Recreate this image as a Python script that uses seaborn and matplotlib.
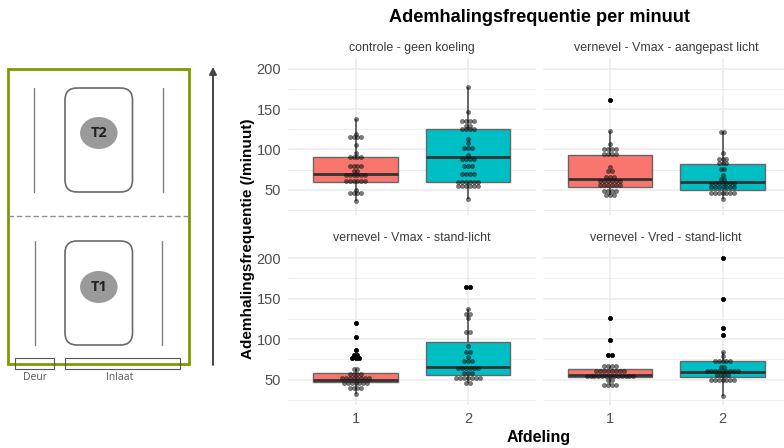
import numpy as np
import pandas as pd
import matplotlib
matplotlib.use("Agg")
import matplotlib.pyplot as plt
from matplotlib.patches import Rectangle, FancyBboxPatch, Ellipse
import seaborn as sns

W, H = 784, 448

panels = ["controle - geen koeling", "vernevel - Vmax - aangepast licht",
          "vernevel - Vmax - stand-licht", "vernevel - Vred - stand-licht"]
afdeling = [1, 2]

# dots per afdeling
a1 = [35.5] + [46]*4 + [50] + [61]*6 + [68]*6 + [73]*2 + [79]*4 + [90]*4 + [95, 105] + [115]*4 + [119, 138]
a2 = [38] + [55]*6 + [60]*6 + [70]*4 + [79]*3 + [88.5]*4 + [93] + [102]*3 + [108, 113] + [125]*4 + [129]*2 + [135]*4 + [147, 177]
b1 = [43]*3 + [48]*4 + [56]*6 + [61]*6 + [66]*3 + [73]*2 + [78] + [94]*4 + [100]*4 + [107, 122.5, 161.5]
b2 = [38.5] + [46]*7 + [53]*7 + [58]*7 + [63.5]*2 + [68] + [76]*2 + [83]*3 + [88]*3 + [95] + [122]*2
c1 = [32] + [40]*4 + [46]*7 + [52]*8 + [56.5]*4 + [63.5]*2 + [76]*3 + [80]*2 + [87, 102, 120]
c2 = [46]*2 + [52]*7 + [58]*3 + [64]*6 + [72.5]*3 + [77.6] + [84]*2 + [92] + [109]*2 + [126] + [131.5]*2 + [137] + [164.5]*2
d1 = [43]*4 + [49]*2 + [54.5]*13 + [60.6]*8 + [67]*4 + [80]*2 + [99, 126]
d2 = [29.5] + [49]*7 + [55]*4 + [60.6]*9 + [65.6]*2 + [73]*5 + [78.7, 83.6, 104.5, 114, 149, 200]
dots = [[a1, a2], [b1, b2], [c1, c2], [d1, d2]]

# box outlines, one pair per panel
whisker_low = [[35.5, 38], [43, 38.5], [32, 46], [43, 29.5]]
box_q1 = [[60, 60], [53.7, 50], [47.5, 56], [52.5, 52.5]]
box_median = [[70, 90], [63, 60], [50, 65], [55, 59.5]]
box_q3 = [[91, 125], [93.5, 81.5], [57.5, 96], [63, 72.5]]
whisker_high = [[138, 177], [122.5, 122], [63.5, 137], [67, 83.6]]

colors = ["#F8766D", "#00BFC4"]
axis_boxes = [(288, 58, 215), (542.5, 58, 215), (288, 248, 405), (542.5, 248, 405)]
ylims = [(18.5, 213.5), (18.5, 213.5), (18.5, 212.5), (18.5, 212.5)]
dot_step = 0.0345  # sideways spacing of stacked dots


def stack_dots(values, center, high):
    # centred rows like a dotplot
    rows = []
    vals, counts = np.unique(values, return_counts=True)
    for v, n in zip(vals, counts):
        for k in range(n):
            rows.append((center + (k - (n - 1) / 2) * dot_step, v, v > high))
    return rows


sns.set_theme(style="whitegrid")
plt.rcParams["font.family"] = ["Liberation Sans", "DejaVu Sans"]

fig = plt.figure(figsize=(W / 100, H / 100), dpi=100)

for i, name in enumerate(panels):
    left, top, bottom = axis_boxes[i]
    ax = fig.add_axes([left / W, 1 - bottom / H, 247.5 / W, (bottom - top) / H])

    box_rows = []
    dot_rows = []
    for j, afd in enumerate(afdeling):
        five = [whisker_low[i][j], box_q1[i][j], box_median[i][j], box_q3[i][j], whisker_high[i][j]]
        box_rows += [(afd, v) for v in five]
        dot_rows += stack_dots(dots[i][j], j, whisker_high[i][j])
    df_box = pd.DataFrame(box_rows, columns=["afdeling", "rate"])
    df_dots = pd.DataFrame(dot_rows, columns=["x", "rate", "outlier"])

    sns.boxplot(data=df_box, x="afdeling", y="rate", hue="afdeling", order=afdeling,
                palette=colors, dodge=False, legend=False, saturation=1, width=0.75,
                whis=(0, 100), showcaps=False, fliersize=0, ax=ax,
                boxprops=dict(edgecolor="#666666", linewidth=1.0),
                whiskerprops=dict(color="#444444", linewidth=1.1),
                medianprops=dict(color="#333333", linewidth=2.0))
    sns.scatterplot(data=df_dots, x="x", y="rate", color="#111111", s=9, alpha=0.55,
                    linewidth=0.4, edgecolor="#111111", legend=False, ax=ax, zorder=4)
    sns.scatterplot(data=df_dots[df_dots["outlier"]], x="x", y="rate", color="black", s=9,
                    linewidth=0.4, edgecolor="black", legend=False, ax=ax, zorder=5)

    ax.set_xlim(-0.6, 1.6)
    ax.set_ylim(*ylims[i])
    ax.set_xticks([0, 1], labels=afdeling)
    ax.set_yticks([50, 100, 150, 200])
    ax.set_yticks([25, 75, 125, 175], minor=True)
    ax.grid(True, which="major", color="#EBEBEB", linewidth=1.1)
    ax.grid(True, which="minor", axis="y", color="#EBEBEB", linewidth=0.6)
    ax.set_axisbelow(True)
    for s in ax.spines.values():
        s.set_visible(False)
    ax.tick_params(which="both", length=0, labelsize=10.5, labelcolor="#4D4D4D", pad=5)
    ax.set_xlabel("")
    ax.set_ylabel("")
    if i % 2 == 1:
        ax.tick_params(labelleft=False)
    if i < 2:
        ax.tick_params(labelbottom=False)
    fig.text((left + 123.5) / W, 1 - (top - 10) / H, name, ha="center", va="center",
             fontsize=8.9, color="#3a3a3a")

fig.text(539.5 / W, 1 - 17 / H, "Ademhalingsfrequentie per minuut", ha="center", va="center",
         fontsize=13.1, fontweight="bold", color="black")
fig.text(538.5 / W, 1 - 437.5 / H, "Afdeling", ha="center", va="center",
         fontsize=11.5, fontweight="bold", color="black")
fig.text(248 / W, 1 - 239 / H, "Ademhalingsfrequentie (/minuut)", ha="center", va="center",
         rotation=90, fontsize=11, fontweight="bold", color="black")

# stable layout sketch on the left, drawn in pixel coordinates
sk = fig.add_axes([0, 0, 1, 1], zorder=-1)
sk.set_xlim(0, W)
sk.set_ylim(H, 0)
sk.axis("off")
line = "#6a6a6a"
sk.add_patch(Rectangle((8.5, 69), 181, 295, fill=False, edgecolor="#7F9A00", linewidth=2))
sk.plot([8.5, 189.5], [216, 216], color="#909090", linewidth=1, linestyle=(0, (4, 2)))
for x, y0, y1 in [(34.5, 88, 192), (163, 88, 192), (35.5, 241, 345), (162, 241, 345)]:
    sk.plot([x, x], [y0, y1], color="#808080", linewidth=1)
for y0, cy, label in [(88, 133, "T2"), (241, 287, "T1")]:
    sk.add_patch(FancyBboxPatch((65 + 12, y0 + 12), 67.5 - 24, 104 - 24,
                                boxstyle="round,pad=12", fill=False, edgecolor=line, linewidth=1.2))
    sk.add_patch(Ellipse((98.8, cy), 37.5, 32, facecolor="#9a9a9a", edgecolor="none"))
    sk.text(98.8, cy, label, ha="center", va="center", fontsize=10.5, fontweight="bold",
            color="#222222", family=["Open Sans", "DejaVu Sans"])
sk.add_patch(Rectangle((15.5, 358), 39, 11, fill=False, edgecolor="#555555", linewidth=0.8))
sk.add_patch(Rectangle((65, 358), 115.5, 11, fill=False, edgecolor="#555555", linewidth=0.8))
sk.text(35, 377, "Deur", ha="center", va="center", fontsize=7.5, color="#555555",
        family=["Open Sans", "DejaVu Sans"])
sk.text(120, 377, "Inlaat", ha="center", va="center", fontsize=7.5, color="#555555",
        family=["Open Sans", "DejaVu Sans"])
sk.annotate("", xy=(213, 67), xytext=(213, 365),
            arrowprops=dict(arrowstyle="-|>,head_width=0.18,head_length=0.35", color="#444444",
                            linewidth=1.4, shrinkA=0, shrinkB=0))

fig.savefig("out.png", dpi=100)
